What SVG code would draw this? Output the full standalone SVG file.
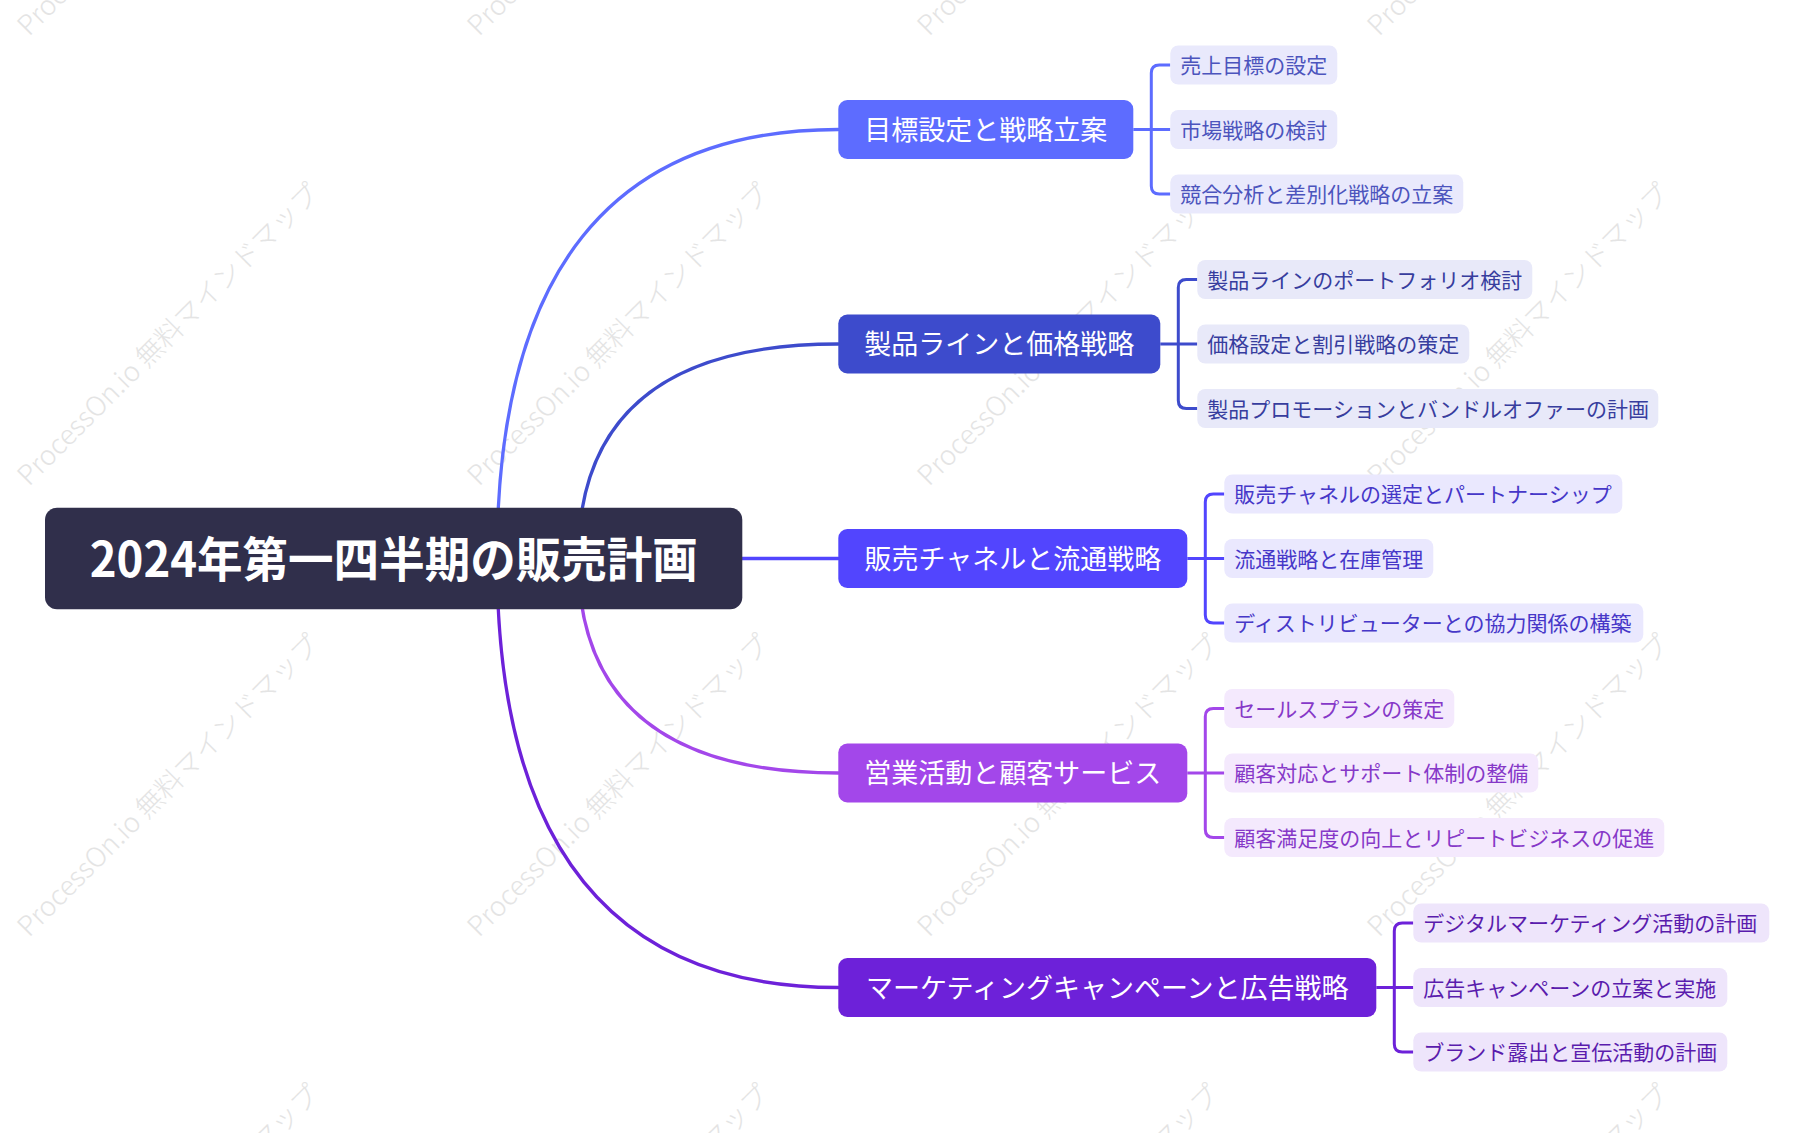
<svg xmlns="http://www.w3.org/2000/svg" width="1816" height="1133" viewBox="0 0 1816 1133">
<style>
text{font-family:"Noto Sans CJK JP","Noto Sans",sans-serif;}
.wm{font-size:27.3px;fill:#e4e4e4;font-weight:300;}
.root-t{font-size:48px;font-weight:700;fill:#ffffff;text-anchor:middle;}
.l1-t{font-size:27px;fill:#ffffff;text-anchor:middle;}
.l2-t{font-size:21px;}
.conn{fill:none;stroke-width:3.3;stroke-linecap:round;}
.br{fill:none;stroke-width:3;}
</style>
<rect width="1816" height="1133" fill="#ffffff"/>
<g id="watermarks">
<text class="wm" x="29" y="37" transform="rotate(-45 29 37)">ProcessOn.io 無料マインドマップ</text>
<text class="wm" x="479" y="37" transform="rotate(-45 479 37)">ProcessOn.io 無料マインドマップ</text>
<text class="wm" x="929" y="37" transform="rotate(-45 929 37)">ProcessOn.io 無料マインドマップ</text>
<text class="wm" x="1379" y="37" transform="rotate(-45 1379 37)">ProcessOn.io 無料マインドマップ</text>
<text class="wm" x="29" y="487" transform="rotate(-45 29 487)">ProcessOn.io 無料マインドマップ</text>
<text class="wm" x="479" y="487" transform="rotate(-45 479 487)">ProcessOn.io 無料マインドマップ</text>
<text class="wm" x="929" y="487" transform="rotate(-45 929 487)">ProcessOn.io 無料マインドマップ</text>
<text class="wm" x="1379" y="487" transform="rotate(-45 1379 487)">ProcessOn.io 無料マインドマップ</text>
<text class="wm" x="29" y="938" transform="rotate(-45 29 938)">ProcessOn.io 無料マインドマップ</text>
<text class="wm" x="479" y="938" transform="rotate(-45 479 938)">ProcessOn.io 無料マインドマップ</text>
<text class="wm" x="929" y="938" transform="rotate(-45 929 938)">ProcessOn.io 無料マインドマップ</text>
<text class="wm" x="1379" y="938" transform="rotate(-45 1379 938)">ProcessOn.io 無料マインドマップ</text>
<text class="wm" x="29" y="1388" transform="rotate(-45 29 1388)">ProcessOn.io 無料マインドマップ</text>
<text class="wm" x="479" y="1388" transform="rotate(-45 479 1388)">ProcessOn.io 無料マインドマップ</text>
<text class="wm" x="929" y="1388" transform="rotate(-45 929 1388)">ProcessOn.io 無料マインドマップ</text>
<text class="wm" x="1379" y="1388" transform="rotate(-45 1379 1388)">ProcessOn.io 無料マインドマップ</text>
</g>
<g id="connectors">
<path class="conn" stroke="#5d6cff" d="M497 558.5 Q497 129.5 838.3 129.5"/>
<path class="conn" stroke="#3d4bcc" d="M578.2 558.5 Q578.2 344 838.3 344"/>
<path class="conn" stroke="#5245fe" d="M742 558.5 H838.3"/>
<path class="conn" stroke="#a347ea" d="M578.2 558.5 Q578.2 773 838.3 773"/>
<path class="conn" stroke="#6d21d9" d="M497 558.5 Q497 987.5 838.3 987.5"/>
<path class="br" stroke="#5d6cff" d="M1133.3 129.5 H1170.3 M1170.3 65 H1159.3 Q1151.3 65 1151.3 73 V186 Q1151.3 194 1159.3 194 H1170.3"/>
<path class="br" stroke="#3d4bcc" d="M1160.3 344 H1197.3 M1197.3 279.5 H1186.3 Q1178.3 279.5 1178.3 287.5 V400.5 Q1178.3 408.5 1186.3 408.5 H1197.3"/>
<path class="br" stroke="#5245fe" d="M1187.3 558.5 H1224.3 M1224.3 494 H1213.3 Q1205.3 494 1205.3 502 V615 Q1205.3 623 1213.3 623 H1224.3"/>
<path class="br" stroke="#a347ea" d="M1187.3 773 H1224.3 M1224.3 708.5 H1213.3 Q1205.3 708.5 1205.3 716.5 V829.5 Q1205.3 837.5 1213.3 837.5 H1224.3"/>
<path class="br" stroke="#6d21d9" d="M1376.3 987.5 H1413.3 M1413.3 923 H1402.3 Q1394.3 923 1394.3 931 V1044 Q1394.3 1052 1402.3 1052 H1413.3"/>
</g>
<g id="root">
<rect x="45" y="507.7" width="697.3" height="101.6" rx="12" fill="#302f4b"/>
<text class="root-t" x="393.7" y="577.2" textLength="608" lengthAdjust="spacingAndGlyphs">2024年第一四半期の販売計画</text>
</g>
<g id="n1">
<rect x="838.3" y="100" width="295" height="59" rx="9" fill="#5d6cff"/>
<text class="l1-t" x="985.8" y="139.8">目標設定と戦略立案</text>
</g>
<g id="n1-1"><rect x="1170.3" y="45.5" width="167" height="39" rx="8" fill="#e9e9fc"/><text class="l2-t" fill="#4c54bd" x="1180.3" y="73">売上目標の設定</text></g>
<g id="n1-2"><rect x="1170.3" y="110" width="167" height="39" rx="8" fill="#e9e9fc"/><text class="l2-t" fill="#4c54bd" x="1180.3" y="137.5">市場戦略の検討</text></g>
<g id="n1-3"><rect x="1170.3" y="174.5" width="293" height="39" rx="8" fill="#e9e9fc"/><text class="l2-t" fill="#4c54bd" x="1180.3" y="202">競合分析と差別化戦略の立案</text></g>
<g id="n2">
<rect x="838.3" y="314.5" width="322" height="59" rx="9" fill="#3d4bcc"/>
<text class="l1-t" x="999.3" y="354.3">製品ラインと価格戦略</text>
</g>
<g id="n2-1"><rect x="1197.3" y="260" width="335" height="39" rx="8" fill="#e8e9f9"/><text class="l2-t" fill="#373d9e" x="1207.3" y="287.5">製品ラインのポートフォリオ検討</text></g>
<g id="n2-2"><rect x="1197.3" y="324.5" width="272" height="39" rx="8" fill="#e8e9f9"/><text class="l2-t" fill="#373d9e" x="1207.3" y="352">価格設定と割引戦略の策定</text></g>
<g id="n2-3"><rect x="1197.3" y="389" width="461" height="39" rx="8" fill="#e8e9f9"/><text class="l2-t" fill="#373d9e" x="1207.3" y="416.5">製品プロモーションとバンドルオファーの計画</text></g>
<g id="n3">
<rect x="838.3" y="529" width="349" height="59" rx="9" fill="#5245fe"/>
<text class="l1-t" x="1012.8" y="568.8">販売チャネルと流通戦略</text>
</g>
<g id="n3-1"><rect x="1224.3" y="474.5" width="398" height="39" rx="8" fill="#eae8fe"/><text class="l2-t" fill="#4637c8" x="1234.3" y="502">販売チャネルの選定とパートナーシップ</text></g>
<g id="n3-2"><rect x="1224.3" y="539" width="209" height="39" rx="8" fill="#eae8fe"/><text class="l2-t" fill="#4637c8" x="1234.3" y="566.5">流通戦略と在庫管理</text></g>
<g id="n3-3"><rect x="1224.3" y="603.5" width="419" height="39" rx="8" fill="#eae8fe"/><text class="l2-t" fill="#4637c8" x="1234.3" y="631">ディストリビューターとの協力関係の構築</text></g>
<g id="n4">
<rect x="838.3" y="743.5" width="349" height="59" rx="9" fill="#a347ea"/>
<text class="l1-t" x="1012.8" y="783.3">営業活動と顧客サービス</text>
</g>
<g id="n4-1"><rect x="1224.3" y="689" width="230" height="39" rx="8" fill="#f4e9fd"/><text class="l2-t" fill="#8638c8" x="1234.3" y="716.5">セールスプランの策定</text></g>
<g id="n4-2"><rect x="1224.3" y="753.5" width="314" height="39" rx="8" fill="#f4e9fd"/><text class="l2-t" fill="#8638c8" x="1234.3" y="781">顧客対応とサポート体制の整備</text></g>
<g id="n4-3"><rect x="1224.3" y="818" width="440" height="39" rx="8" fill="#f4e9fd"/><text class="l2-t" fill="#8638c8" x="1234.3" y="845.5">顧客満足度の向上とリピートビジネスの促進</text></g>
<g id="n5">
<rect x="838.3" y="958" width="538" height="59" rx="9" fill="#6d21d9"/>
<text class="l1-t" x="1107.3" y="997.8">マーケティングキャンペーンと広告戦略</text>
</g>
<g id="n5-1"><rect x="1413.3" y="903.5" width="356" height="39" rx="8" fill="#eee5fb"/><text class="l2-t" fill="#5a1cad" x="1423.3" y="931">デジタルマーケティング活動の計画</text></g>
<g id="n5-2"><rect x="1413.3" y="968" width="314" height="39" rx="8" fill="#eee5fb"/><text class="l2-t" fill="#5a1cad" x="1423.3" y="995.5">広告キャンペーンの立案と実施</text></g>
<g id="n5-3"><rect x="1413.3" y="1032.5" width="314" height="39" rx="8" fill="#eee5fb"/><text class="l2-t" fill="#5a1cad" x="1423.3" y="1060">ブランド露出と宣伝活動の計画</text></g>
</svg>
